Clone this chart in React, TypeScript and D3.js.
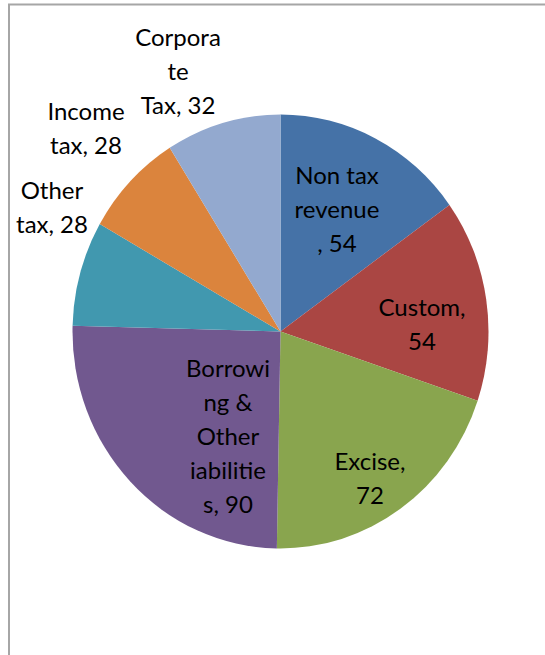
import React from "react";
import * as d3 from "d3";

const categories = ["Non tax revenue", "Custom", "Excise", "Borrowing & Other iabilities", "Other tax", "Income tax", "Corporate Tax"];
const values = [54, 54, 72, 90, 28, 28, 32];
const colors = ["#4572A7", "#AA4643", "#89A54E", "#71588F", "#4198AF", "#DB843D", "#93A9CF"];
// wrapped label lines as shown in the chart
const labelLines = [
  ["Non tax", "revenue", ", 54"],
  ["Custom,", "54"],
  ["Excise,", "72"],
  ["Borrowi", "ng &", "Other", "iabilitie", "s, 90"],
  ["Other", "tax, 28"],
  ["Income", "tax, 28"],
  ["Corpora", "te", "Tax, 32"],
];
// label block centres (layout)
const labelCenters: [number, number][] = [
  [337, 208],
  [422, 323],
  [370, 477],
  [228, 435],
  [52, 206],
  [86, 127],
  [178, 70],
];

const W = 545, H = 655;
const cx = 280.5, cy = 331.5, rx = 208, ry = 217;
const lineH = 34;

export default function App() {
  const pie = d3.pie<number>().sort(null).value((d) => d)(values);
  const arc = d3.arc<d3.PieArcDatum<number>>().innerRadius(0).outerRadius(rx);
  return (
    <div style={{ position: "absolute", left: 0, top: 0 }}>
      <svg width={W} height={H} style={{ display: "block" }}>
        <rect x={0} y={0} width={W} height={H} fill="#fff" />
        <path d={`M9,${H} L9,4.5 L${W},4.5`} fill="none" stroke="#a6a6a6" strokeWidth={2} />
        <g transform={`translate(${cx},${cy}) scale(1,${ry / rx})`}>
          {pie.map((p, i) => (
            <path key={categories[i]} d={arc(p) || ""} fill={colors[i]} />
          ))}
        </g>
        <g fontFamily="Lato, 'Open Sans', sans-serif" fontSize={24} fill="#000" textAnchor="middle">
          {labelLines.map((lines, i) => {
            const [lx, ly] = labelCenters[i];
            const top = ly - ((lines.length - 1) * lineH) / 2;
            return (
              <text key={categories[i]} x={lx} y={top} dominantBaseline="central">
                {lines.map((l, j) => (
                  <tspan key={j} x={lx} y={top + j * lineH}>{l}</tspan>
                ))}
              </text>
            );
          })}
        </g>
      </svg>
    </div>
  );
}
